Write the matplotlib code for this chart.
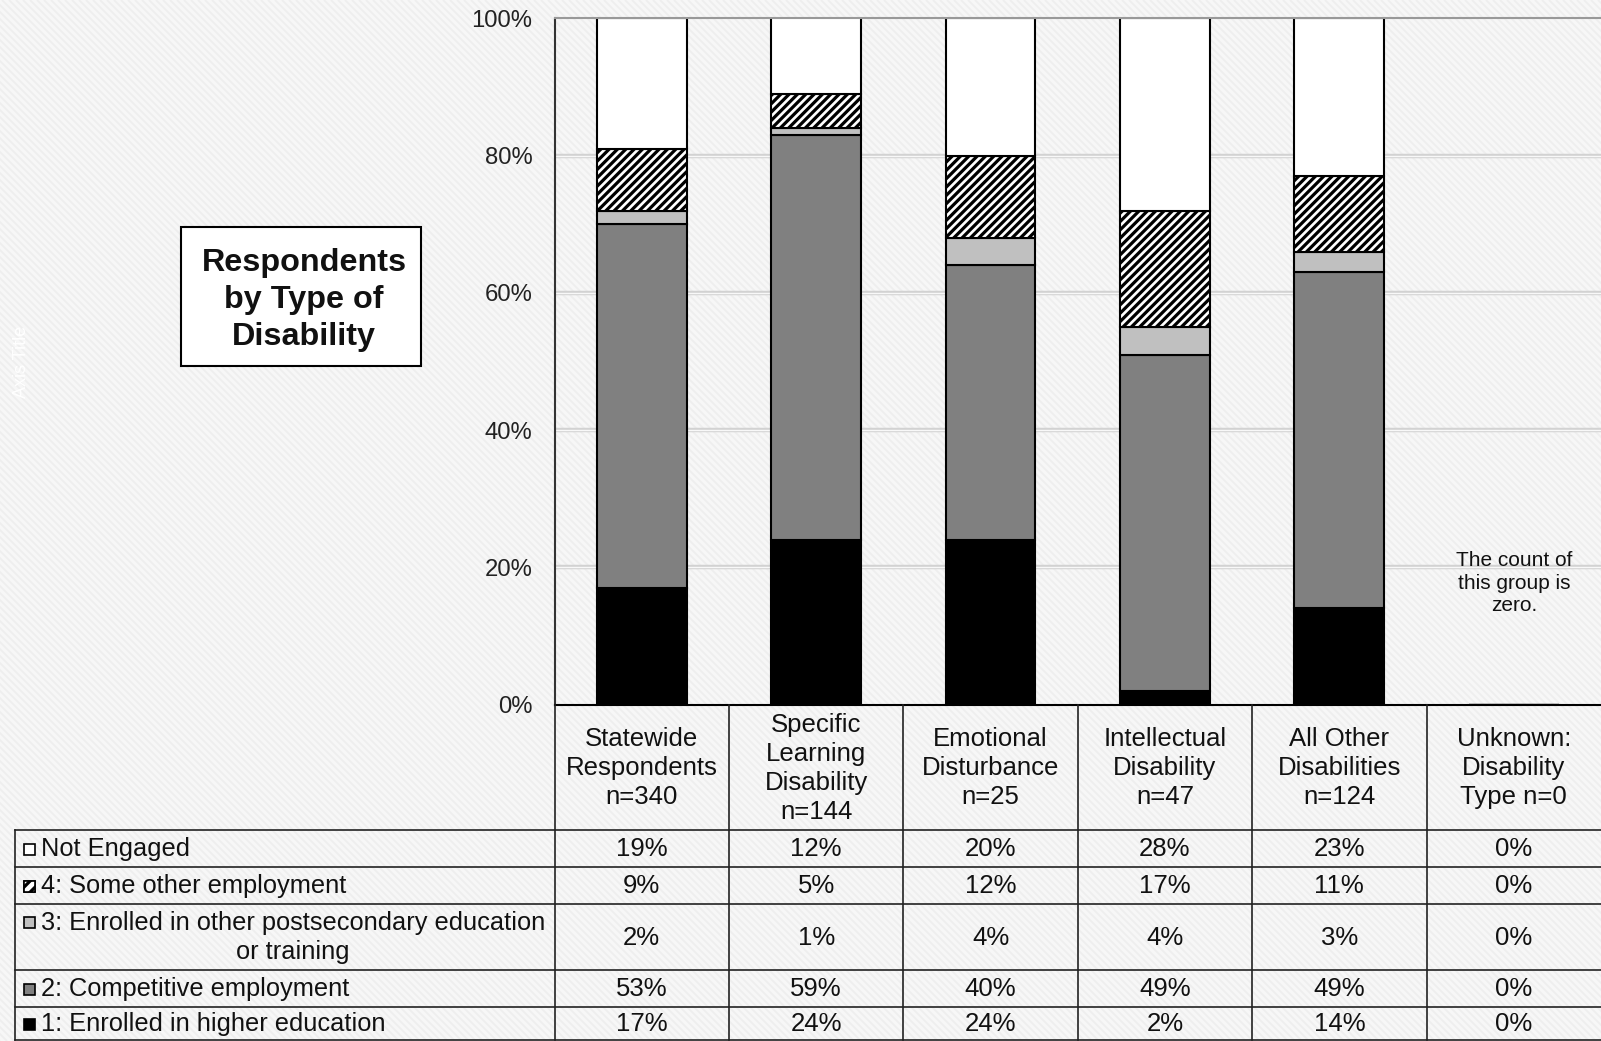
import numpy as np
import matplotlib
matplotlib.use("Agg")
import matplotlib.pyplot as plt
from matplotlib.patches import Rectangle
from matplotlib.collections import LineCollection
from matplotlib.ticker import PercentFormatter

plt.rcParams["font.family"] = ["Liberation Sans", "DejaVu Sans"]
plt.rcParams["hatch.linewidth"] = 2.3

# categories and outcome shares (percent)
categories = [
    "Statewide\nRespondents\nn=340",
    "Specific\nLearning\nDisability\nn=144",
    "Emotional\nDisturbance\nn=25",
    "Intellectual\nDisability\nn=47",
    "All Other\nDisabilities\nn=124",
    "Unknown:\nDisability\nType n=0",
]
higher_ed = [17, 24, 24, 2, 14, 0]
competitive = [53, 59, 40, 49, 49, 0]
other_postsec = [2, 1, 4, 4, 3, 0]
other_employment = [9, 5, 12, 17, 11, 0]
not_engaged = [19, 12, 20, 28, 23, 0]

series_labels = [
    "1: Enrolled in higher education",
    "2: Competitive employment",
    "3: Enrolled in other postsecondary education\nor training",
    "4: Some other employment",
    "Not Engaged",
]
series_values = [higher_ed, competitive, other_postsec, other_employment, not_engaged]
series_colors = ["#000000", "#808080", "#c0c0c0", "#ffffff", "#ffffff"]
series_hatch = [None, None, None, "////", None]

W, H = 1601, 1041
fig = plt.figure(figsize=(W / 100, H / 100), dpi=100)
fig.patch.set_facecolor("#f7f7f7")

# faint diagonal background texture
bg = fig.add_axes([0, 0, 1, 1], zorder=0)
bg.set_xlim(0, W)
bg.set_ylim(H, 0)
bg.axis("off")
offs = np.arange(-H, W + H, 7)
segs = [[(o, 0), (o + H, H)] for o in offs]
bg.add_collection(LineCollection(segs, colors="#eeeeee", linewidths=1.3))

# chart area
left, right, top, bottom = 554.5, 1601, 18.4, 704.5
ax = fig.add_axes([left / W, 1 - bottom / H, (right - left) / W, (bottom - top) / H], zorder=1)
ax.patch.set_visible(False)
x = np.arange(len(categories))
ax.set_xlim(-0.5, len(categories) - 0.5)
ax.set_ylim(0, 1)

for yv in [0.2, 0.4, 0.6, 0.8]:
    ax.axhline(yv, color="#d2d2d2", lw=3.2, zorder=0)
    ax.axhline(yv, color="#f8f8f8", lw=1.0, zorder=0)

base = np.zeros(len(categories))
for vals, col, hat in zip(series_values, series_colors, series_hatch):
    v = np.array(vals) / 100
    ax.bar(x, v, bottom=base, width=0.515, color=col, edgecolor="black",
           linewidth=1.5, hatch=hat, zorder=2)
    base += v

ax.text(5, 0.177, "The count of\nthis group is\nzero.", ha="center", va="center",
        fontsize=15, linespacing=1.26, color="#111111")

ax.yaxis.set_major_formatter(PercentFormatter(1.0, decimals=0))
ax.set_yticks(np.linspace(0, 1, 6))
ax.tick_params(axis="y", length=0, pad=16, labelsize=17.2, labelcolor="#222222")
ax.set_xticks([])
ax.spines["left"].set_color("#333333")
ax.spines["left"].set_linewidth(1.5)
ax.spines["top"].set_color("#999999")
ax.spines["top"].set_linewidth(1.5)
ax.spines["right"].set_visible(False)
ax.spines["bottom"].set_visible(False)

# data table below the chart
tb = fig.add_axes([0, 0, 1, 1], zorder=2)
tb.set_xlim(0, W)
tb.set_ylim(H, 0)
tb.axis("off")

col_w = (right - left) / len(categories)
col_edges = [left + i * col_w for i in range(len(categories) + 1)]
table_left = 15.3
row_edges = [704.5, 830, 866.9, 903.7, 970, 1006.8, 1040]
lc = "#222222"

tb.plot([left, W], [row_edges[0], row_edges[0]], color="black", lw=1.5)
for yy in row_edges[1:]:
    tb.plot([table_left, W], [yy, yy], color=lc, lw=1.2)
tb.plot([table_left, table_left], [row_edges[1], row_edges[-1]], color=lc, lw=1.2)
for xe in col_edges[:-1]:
    tb.plot([xe, xe], [row_edges[0], row_edges[-1]], color=lc, lw=1.2)

for i, lab in enumerate(categories):
    cx = col_edges[i] + col_w / 2
    tb.text(cx, (row_edges[0] + row_edges[1]) / 2 + 1, lab, ha="center", va="center",
            fontsize=18.5, linespacing=1.26, color="#111111")

# rows from top: Not Engaged down to higher education
for r, s in enumerate(range(len(series_values) - 1, -1, -1)):
    y0, y1 = row_edges[r + 1], row_edges[r + 2]
    cy = (y0 + y1) / 2 + 1
    lab = series_labels[s]
    nlines = lab.count("\n") + 1
    key_y = cy - (nlines - 1) * 15
    tb.add_patch(Rectangle((23.5, key_y - 5.5), 11, 11, facecolor=series_colors[s],
                           edgecolor="black", lw=1.2))
    if series_hatch[s]:
        tb.add_patch(Rectangle((23.5, key_y - 5.5), 11, 11, facecolor="white",
                               edgecolor="black", lw=1.2, hatch="///"))
    tb.text(41, cy, lab, ha="left", va="center", multialignment="center",
            fontsize=18.3, linespacing=1.25, color="#111111")
    for i, v in enumerate(series_values[s]):
        cx = col_edges[i] + col_w / 2
        tb.text(cx, cy, f"{v}%", ha="center", va="center", fontsize=18.5, color="#111111")

# chart title box
tb.add_patch(Rectangle((181, 227), 240, 139, facecolor="white", edgecolor="black", lw=1.5))
tb.text(304, 300, "Respondents\nby Type of\nDisability", ha="center", va="center",
        fontsize=23.3, fontweight="bold", linespacing=1.3, color="#111111")

tb.text(21, 362, "Axis Title", rotation=90, ha="center", va="center",
        fontsize=13, color="white")

fig.savefig("out.png", dpi=100)
